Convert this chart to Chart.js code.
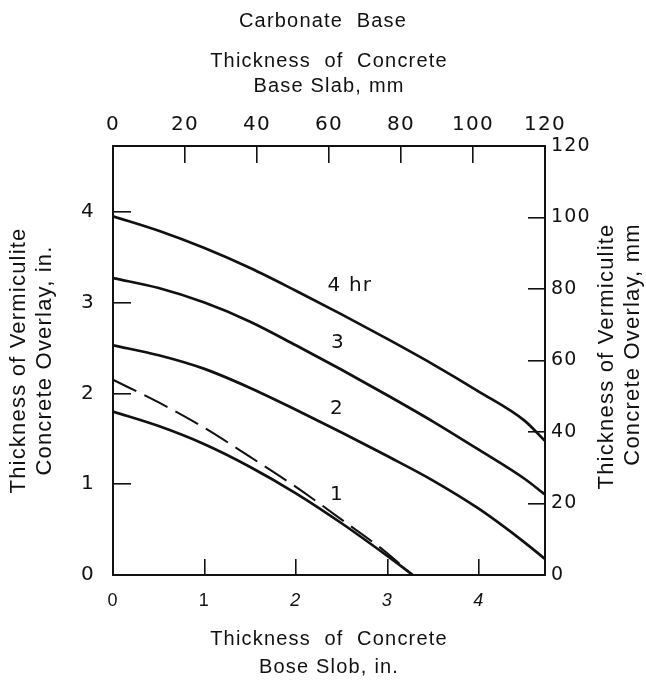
<!DOCTYPE html>
<html>
<head>
<meta charset="utf-8">
<script src="https://cdn.jsdelivr.net/npm/chart.js@4/dist/chart.umd.min.js"></script>
<style>
  html, body { margin: 0; padding: 0; background: #fff; }
  canvas { display: block; }
</style>
</head>
<body>
<canvas id="grafico" width="646" height="681"></canvas>
<script>
// ------------------- DADOS (polegadas) -------------------
const AXIS_MAX_IN = 120 / 25.4;

const hrX = [0, 0.5, 1, 1.5, 2, 2.5, 3, 3.5, 4, 4.5, 4.72];
const hr4Y = [3.95, 3.79, 3.60, 3.38, 3.13, 2.87, 2.60, 2.32, 2.02, 1.70, 1.48];
const hr3Y = [3.27, 3.16, 3.00, 2.79, 2.53, 2.26, 1.98, 1.69, 1.38, 1.06, 0.89];
const hr2Y = [2.53, 2.42, 2.27, 2.06, 1.82, 1.57, 1.31, 1.04, 0.73, 0.36, 0.18];

const hr1X = [0, 0.5, 1, 1.5, 2, 2.5, 3, 3.28];
const hr1Y = [1.80, 1.64, 1.44, 1.19, 0.90, 0.57, 0.21, 0];

const dashX = [0, 0.5, 1, 1.5, 2, 2.5, 3, 3.27];
const dashY = [2.15, 1.90, 1.62, 1.30, 0.97, 0.61, 0.24, 0];

// ticks
const inchTicks = [0, 1, 2, 3, 4];
const mmTicks = [0, 20, 40, 60, 80, 100, 120];

// rótulos das curvas (em polegadas)
const curveNames = ['4 hr', '3', '2', '1'];
const curveNameX = [2.59, 2.46, 2.45, 2.45];
const curveNameY = [3.18, 2.56, 1.83, 0.88];

function pontos(xs, ys){
    return xs.map((x, i) => ({x: x, y: ys[i]}));
}

const INK = '#111';

// ------------------- PLUGINS -------------------
const espacamento = {
    id: 'espacamento',
    beforeDraw(chart){
        chart.ctx.letterSpacing = '1.2px';
    }
};

const textos = {
    id: 'textos',
    afterDatasetsDraw(chart){
        const ctx = chart.ctx;
        const sx = chart.scales.x, sy = chart.scales.y, sy2 = chart.scales.y2;

        ctx.save();
        ctx.fillStyle = INK;
        ctx.font = '20px "DejaVu Sans"';
        ctx.textAlign = 'center';
        ctx.textBaseline = 'middle';
        curveNames.forEach((t, i) => {
            ctx.fillText(t, sx.getPixelForValue(curveNameX[i]), sy.getPixelForValue(curveNameY[i]));
        });
        ctx.restore();

        // título do eixo direito (lido de baixo para cima)
        const meio = (chart.chartArea.top + chart.chartArea.bottom) / 2;
        ctx.save();
        ctx.fillStyle = INK;
        ctx.font = '22px "Liberation Sans"';
        ctx.textAlign = 'center';
        ctx.textBaseline = 'middle';
        ctx.translate(sy2.left + 62, meio - 4);
        ctx.rotate(-Math.PI / 2);
        ctx.fillText('Thickness of Vermiculite', 0, 0);
        ctx.restore();

        ctx.save();
        ctx.fillStyle = INK;
        ctx.font = '22px "Liberation Sans"';
        ctx.textAlign = 'center';
        ctx.textBaseline = 'middle';
        ctx.translate(sy2.left + 88, meio - 16);
        ctx.rotate(-Math.PI / 2);
        ctx.fillText('Concrete Overlay, mm', 0, 0);
        ctx.restore();
    }
};

function eixo(extra){
    return Object.assign({
        type: 'linear',
        grid: { drawOnChartArea: false, color: INK, lineWidth: 1.6 },
        border: { display: true, color: INK, width: 2 },
        ticks: { color: INK, autoSkip: false, maxRotation: 0, font: { family: '"DejaVu Sans"', size: 20 } }
    }, extra);
}

const fonteNum = { family: '"DejaVu Sans"', size: 20 };

function curva(rotulo, dados, extra){
    return Object.assign({
        label: rotulo,
        data: dados,
        borderColor: INK,
        backgroundColor: INK,
        borderWidth: 2.7,
        pointRadius: 0,
        cubicInterpolationMode: 'monotone',
        fill: false,
        xAxisID: 'x',
        yAxisID: 'y'
    }, extra || {});
}

const chart = new Chart(document.getElementById('grafico'), {
    type: 'line',
    data: {
        datasets: [
            curva('4 hr', pontos(hrX, hr4Y)),
            curva('3', pontos(hrX, hr3Y)),
            curva('2', pontos(hrX, hr2Y)),
            curva('1', pontos(hr1X, hr1Y)),
            curva('1 (dashed)', pontos(dashX, dashY), { borderDash: [26, 9], borderWidth: 2 })
        ]
    },
    options: {
        responsive: false,
        animation: false,
        layout: { padding: 0 },
        plugins: {
            colors: { enabled: false },
            legend: { display: false },
            tooltip: { enabled: false },
            title: {
                display: true,
                text: 'Carbonate  Base',
                color: INK,
                font: { family: '"Liberation Sans"', size: 20, weight: 'normal', lineHeight: 1.2 },
                padding: { top: 9, bottom: 0 }
            }
        },
        scales: {
            x: eixo({
                position: 'bottom',
                min: 0, max: AXIS_MAX_IN,
                afterBuildTicks: s => { s.ticks = inchTicks.map(v => ({value: v})); },
                afterFit: s => { s.height = 106; },
                grid: { drawOnChartArea: false, color: INK, lineWidth: 1.6, tickLength: -16 },
                ticks: {
                    color: INK, autoSkip: false, maxRotation: 0, padding: 31,
                    font: c => ({ family: '"Liberation Sans"', size: 18, style: (c.tick && c.tick.value >= 2) ? 'italic' : 'normal' })
                },
                title: {
                    display: true,
                    text: ['Thickness  of  Concrete', 'Bose Slob, in.'],
                    color: INK,
                    font: { family: '"Liberation Sans"', size: 20, lineHeight: 1.4 },
                    padding: { top: 0, bottom: 0 }
                }
            }),
            x2: eixo({
                position: 'top',
                min: 0, max: 120,
                afterBuildTicks: s => { s.ticks = mmTicks.map(v => ({value: v})); },
                afterFit: s => { s.height = 113; },
                grid: { drawOnChartArea: false, color: INK, lineWidth: 1.6, tickLength: -17 },
                ticks: { color: INK, autoSkip: false, maxRotation: 0, padding: 26, font: fonteNum },
                title: {
                    display: true,
                    text: ['Thickness  of  Concrete', 'Base Slab, mm'],
                    color: INK,
                    font: { family: '"Liberation Sans"', size: 20, lineHeight: 1.25 },
                    padding: { top: 15.5, bottom: 0 }
                }
            }),
            y: eixo({
                position: 'left',
                min: 0, max: AXIS_MAX_IN,
                afterBuildTicks: s => { s.ticks = inchTicks.map(v => ({value: v})); },
                afterFit: s => { s.width = 113; },
                grid: { drawOnChartArea: false, color: INK, lineWidth: 1.6, tickLength: -18 },
                ticks: { color: INK, autoSkip: false, padding: 36, font: fonteNum },
                title: {
                    display: true,
                    text: ['Thickness of Vermiculite', 'Concrete Overlay, in.'],
                    color: INK,
                    font: { family: '"Liberation Sans"', size: 22, lineHeight: 26 / 22 },
                    padding: { top: 6, bottom: 0 }
                }
            }),
            y2: eixo({
                position: 'right',
                min: 0, max: 120,
                afterBuildTicks: s => { s.ticks = mmTicks.map(v => ({value: v})); },
                afterFit: s => { s.width = 101; },
                grid: { drawOnChartArea: false, color: INK, lineWidth: 1.6, tickLength: -17 },
                ticks: { color: INK, autoSkip: false, padding: 23, font: { family: '"DejaVu Sans"', size: 19 } }
            })
        }
    },
    plugins: [espacamento, textos]
});
</script>
</body>
</html>
